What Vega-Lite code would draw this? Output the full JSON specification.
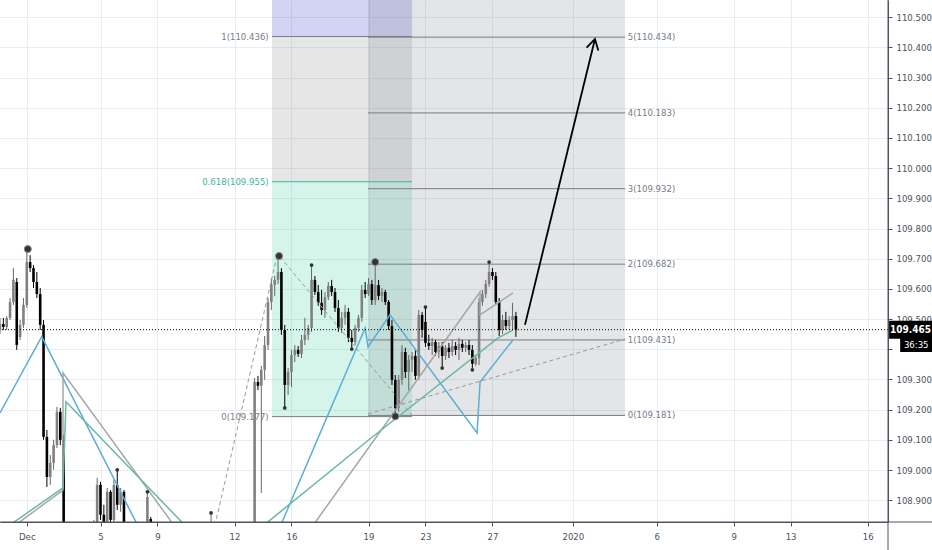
{
"$schema": "https://vega.github.io/schema/vega-lite/v6.json",
"autosize": {"type": "none"},
"width": 888,
"height": 522,
"padding": {"left": 0, "top": 0, "right": 44, "bottom": 28},
"background": "#ffffff",
"config": {
  "view": {"stroke": null},
  "axis": {"labelFont": "DejaVu Sans Condensed, Liberation Sans Narrow, Liberation Sans", "labelFontSize": 9.5, "labelColor": "#4c525e", "gridColor": "#e6edf4", "gridWidth": 1, "domainColor": "#50535e", "tickColor": "#50535e", "labelOverlap": false, "labelSeparation": 0},
  "axisY": {"labelOverlap": false, "tickCount": 17},
  "text": {"font": "DejaVu Sans Condensed, Liberation Sans Narrow, Liberation Sans", "fontSize": 9.5}
},
"resolve": {"scale": {"color": "independent"}},
"datasets": {
  "zones": [
    {"zone": "A-green", "x1": 81.2, "x2": 123.0, "lo": 109.177, "hi": 109.955},
    {"zone": "A-gray", "x1": 81.2, "x2": 123.0, "lo": 109.955, "hi": 110.436},
    {"zone": "A-purple", "x1": 81.2, "x2": 123.0, "lo": 110.436, "hi": 110.6},
    {"zone": "B-gray", "x1": 109.85, "x2": 186.6, "lo": 109.181, "hi": 110.6}
  ],
  "levels": [
    {"x1": 81.2, "x2": 123.0, "y": 110.436, "kind": "gray"},
    {"x1": 81.2, "x2": 123.0, "y": 109.955, "kind": "teal"},
    {"x1": 81.2, "x2": 123.0, "y": 109.177, "kind": "gray"},
    {"x1": 109.85, "x2": 186.6, "y": 109.181, "kind": "gray"},
    {"x1": 109.85, "x2": 186.6, "y": 109.431, "kind": "gray"},
    {"x1": 109.85, "x2": 186.6, "y": 109.682, "kind": "gray"},
    {"x1": 109.85, "x2": 186.6, "y": 109.932, "kind": "gray"},
    {"x1": 109.85, "x2": 186.6, "y": 110.183, "kind": "gray"},
    {"x1": 109.85, "x2": 186.6, "y": 110.434, "kind": "gray"}
  ],
  "labelsA": [
    {"x": 80.2, "y": 110.436, "t": "1(110.436)", "kind": "gray"},
    {"x": 80.2, "y": 109.955, "t": "0.618(109.955)", "kind": "teal"},
    {"x": 80.2, "y": 109.177, "t": "0(109.177)", "kind": "gray"}
  ],
  "labelsB": [
    {"x": 187.4, "y": 110.434, "t": "5(110.434)"},
    {"x": 187.4, "y": 110.183, "t": "4(110.183)"},
    {"x": 187.4, "y": 109.932, "t": "3(109.932)"},
    {"x": 187.4, "y": 109.682, "t": "2(109.682)"},
    {"x": 187.4, "y": 109.431, "t": "1(109.431)"},
    {"x": 187.4, "y": 109.181, "t": "0(109.181)"}
  ],
  "candles": [
    {"k":0,"o":109.464,"h":109.504,"l":109.451,"c":109.484},
    {"k":1,"o":109.484,"h":109.504,"l":109.464,"c":109.474},
    {"k":2,"o":109.474,"h":109.510,"l":109.464,"c":109.504},
    {"k":3,"o":109.504,"h":109.570,"l":109.497,"c":109.557},
    {"k":4,"o":109.557,"h":109.669,"l":109.547,"c":109.630},
    {"k":5,"o":109.623,"h":109.636,"l":109.398,"c":109.414},
    {"k":6,"o":109.441,"h":109.497,"l":109.431,"c":109.481},
    {"k":7,"o":109.481,"h":109.570,"l":109.471,"c":109.547},
    {"k":8,"o":109.547,"h":109.726,"l":109.537,"c":109.689},
    {"k":9,"o":109.689,"h":109.712,"l":109.656,"c":109.669},
    {"k":10,"o":109.669,"h":109.679,"l":109.603,"c":109.623},
    {"k":11,"o":109.623,"h":109.656,"l":109.570,"c":109.583},
    {"k":12,"o":109.583,"h":109.603,"l":109.464,"c":109.481},
    {"k":13,"o":109.481,"h":109.497,"l":109.100,"c":109.110},
    {"k":14,"o":109.110,"h":109.133,"l":108.944,"c":108.977},
    {"k":15,"o":108.977,"h":109.050,"l":108.951,"c":109.024},
    {"k":16,"o":109.024,"h":109.100,"l":109.001,"c":109.083},
    {"k":17,"o":109.083,"h":109.209,"l":109.073,"c":109.193},
    {"k":18,"o":109.193,"h":109.206,"l":109.083,"c":109.100},
    {"k":19,"o":109.100,"h":109.117,"l":108.570,"c":108.603},
    {"k":28,"o":108.752,"h":108.835,"l":108.736,"c":108.818},
    {"k":29,"o":108.818,"h":108.974,"l":108.809,"c":108.951},
    {"k":30,"o":108.951,"h":108.961,"l":108.835,"c":108.852},
    {"k":31,"o":108.852,"h":108.885,"l":108.802,"c":108.828},
    {"k":32,"o":108.828,"h":108.941,"l":108.818,"c":108.928},
    {"k":33,"o":108.928,"h":108.934,"l":108.809,"c":108.835},
    {"k":34,"o":108.835,"h":108.967,"l":108.818,"c":108.951},
    {"k":35,"o":108.951,"h":109.001,"l":108.868,"c":108.885},
    {"k":36,"o":108.885,"h":108.941,"l":108.862,"c":108.928},
    {"k":37,"o":108.928,"h":108.934,"l":108.703,"c":108.736},
    {"k":44,"o":108.752,"h":108.928,"l":108.742,"c":108.911},
    {"k":45,"o":108.838,"h":108.845,"l":108.703,"c":108.719},
    {"k":63,"o":108.703,"h":108.858,"l":108.670,"c":108.719},
    {"k":76,"o":108.570,"h":109.305,"l":108.537,"c":109.292},
    {"k":77,"o":109.292,"h":109.312,"l":109.265,"c":109.279},
    {"k":78,"o":109.279,"h":109.345,"l":108.924,"c":109.332},
    {"k":79,"o":109.332,"h":109.444,"l":109.299,"c":109.414},
    {"k":80,"o":109.414,"h":109.570,"l":109.398,"c":109.557},
    {"k":81,"o":109.557,"h":109.636,"l":109.530,"c":109.613},
    {"k":82,"o":109.613,"h":109.643,"l":109.577,"c":109.630},
    {"k":83,"o":109.630,"h":109.709,"l":109.616,"c":109.656},
    {"k":84,"o":109.656,"h":109.669,"l":109.448,"c":109.464},
    {"k":85,"o":109.464,"h":109.481,"l":109.206,"c":109.282},
    {"k":86,"o":109.282,"h":109.338,"l":109.249,"c":109.325},
    {"k":87,"o":109.325,"h":109.398,"l":109.275,"c":109.381},
    {"k":88,"o":109.381,"h":109.414,"l":109.358,"c":109.398},
    {"k":89,"o":109.398,"h":109.411,"l":109.375,"c":109.385},
    {"k":90,"o":109.385,"h":109.448,"l":109.371,"c":109.431},
    {"k":91,"o":109.431,"h":109.504,"l":109.414,"c":109.448},
    {"k":92,"o":109.448,"h":109.481,"l":109.431,"c":109.471},
    {"k":93,"o":109.471,"h":109.679,"l":109.458,"c":109.630},
    {"k":94,"o":109.630,"h":109.643,"l":109.580,"c":109.590},
    {"k":95,"o":109.590,"h":109.613,"l":109.544,"c":109.554},
    {"k":96,"o":109.554,"h":109.597,"l":109.514,"c":109.530},
    {"k":97,"o":109.530,"h":109.590,"l":109.504,"c":109.573},
    {"k":98,"o":109.573,"h":109.623,"l":109.563,"c":109.610},
    {"k":99,"o":109.610,"h":109.630,"l":109.577,"c":109.590},
    {"k":100,"o":109.590,"h":109.603,"l":109.524,"c":109.537},
    {"k":101,"o":109.537,"h":109.563,"l":109.458,"c":109.471},
    {"k":102,"o":109.471,"h":109.524,"l":109.454,"c":109.504},
    {"k":103,"o":109.504,"h":109.547,"l":109.481,"c":109.524},
    {"k":104,"o":109.524,"h":109.537,"l":109.424,"c":109.438},
    {"k":105,"o":109.438,"h":109.464,"l":109.401,"c":109.424},
    {"k":106,"o":109.424,"h":109.481,"l":109.414,"c":109.471},
    {"k":107,"o":109.471,"h":109.514,"l":109.458,"c":109.504},
    {"k":108,"o":109.504,"h":109.613,"l":109.491,"c":109.597},
    {"k":109,"o":109.597,"h":109.623,"l":109.570,"c":109.583},
    {"k":110,"o":109.583,"h":109.636,"l":109.577,"c":109.616},
    {"k":111,"o":109.616,"h":109.630,"l":109.547,"c":109.563},
    {"k":112,"o":109.563,"h":109.686,"l":109.547,"c":109.613},
    {"k":113,"o":109.613,"h":109.630,"l":109.563,"c":109.577},
    {"k":114,"o":109.577,"h":109.603,"l":109.557,"c":109.590},
    {"k":115,"o":109.590,"h":109.597,"l":109.547,"c":109.557},
    {"k":116,"o":109.557,"h":109.563,"l":109.464,"c":109.477},
    {"k":117,"o":109.477,"h":109.497,"l":109.282,"c":109.299},
    {"k":118,"o":109.299,"h":109.315,"l":109.176,"c":109.206},
    {"k":119,"o":109.206,"h":109.315,"l":109.193,"c":109.299},
    {"k":120,"o":109.299,"h":109.414,"l":109.282,"c":109.391},
    {"k":121,"o":109.391,"h":109.405,"l":109.305,"c":109.325},
    {"k":122,"o":109.325,"h":109.381,"l":109.265,"c":109.365},
    {"k":123,"o":109.365,"h":109.391,"l":109.325,"c":109.378},
    {"k":124,"o":109.378,"h":109.398,"l":109.299,"c":109.312},
    {"k":125,"o":109.312,"h":109.530,"l":109.299,"c":109.514},
    {"k":126,"o":109.514,"h":109.524,"l":109.438,"c":109.464},
    {"k":127,"o":109.491,"h":109.540,"l":109.408,"c":109.421},
    {"k":128,"o":109.421,"h":109.448,"l":109.398,"c":109.411},
    {"k":129,"o":109.411,"h":109.438,"l":109.381,"c":109.424},
    {"k":130,"o":109.424,"h":109.431,"l":109.378,"c":109.391},
    {"k":131,"o":109.391,"h":109.424,"l":109.371,"c":109.411},
    {"k":132,"o":109.411,"h":109.424,"l":109.338,"c":109.378},
    {"k":133,"o":109.378,"h":109.414,"l":109.365,"c":109.405},
    {"k":134,"o":109.405,"h":109.421,"l":109.371,"c":109.391},
    {"k":135,"o":109.391,"h":109.431,"l":109.378,"c":109.411},
    {"k":136,"o":109.411,"h":109.424,"l":109.381,"c":109.398},
    {"k":137,"o":109.398,"h":109.438,"l":109.365,"c":109.418},
    {"k":138,"o":109.418,"h":109.431,"l":109.391,"c":109.405},
    {"k":139,"o":109.405,"h":109.424,"l":109.391,"c":109.414},
    {"k":140,"o":109.414,"h":109.431,"l":109.381,"c":109.398},
    {"k":141,"o":109.398,"h":109.414,"l":109.332,"c":109.352},
    {"k":142,"o":109.352,"h":109.381,"l":109.345,"c":109.371},
    {"k":143,"o":109.371,"h":109.570,"l":109.348,"c":109.557},
    {"k":144,"o":109.557,"h":109.597,"l":109.544,"c":109.583},
    {"k":145,"o":109.583,"h":109.630,"l":109.570,"c":109.616},
    {"k":146,"o":109.616,"h":109.689,"l":109.607,"c":109.656},
    {"k":147,"o":109.656,"h":109.669,"l":109.630,"c":109.643},
    {"k":148,"o":109.643,"h":109.656,"l":109.547,"c":109.557},
    {"k":149,"o":109.557,"h":109.570,"l":109.444,"c":109.464},
    {"k":150,"o":109.464,"h":109.514,"l":109.451,"c":109.497},
    {"k":151,"o":109.497,"h":109.524,"l":109.464,"c":109.477},
    {"k":152,"o":109.477,"h":109.510,"l":109.464,"c":109.497},
    {"k":153,"o":109.497,"h":109.554,"l":109.464,"c":109.510},
    {"k":154,"o":109.510,"h":109.524,"l":109.441,"c":109.465}
  ],
  "lines": [
    {"id": "b1", "g": "blue", "i": 0, "x": 0, "y": 109.189},
    {"id": "b1", "g": "blue", "i": 1, "x": 12.45, "y": 109.442},
    {"id": "b1", "g": "blue", "i": 2, "x": 46.3, "y": 108.703},
    {"id": "b2", "g": "blue", "i": 0, "x": 79.4, "y": 108.703},
    {"id": "b2", "g": "blue", "i": 1, "x": 109.0, "y": 109.471},
    {"id": "b2", "g": "blue", "i": 2, "x": 109.85, "y": 109.408},
    {"id": "b2", "g": "blue", "i": 3, "x": 116.4, "y": 109.514},
    {"id": "b2", "g": "blue", "i": 4, "x": 142.4, "y": 109.123},
    {"id": "b2", "g": "blue", "i": 5, "x": 143.3, "y": 109.292},
    {"id": "b2", "g": "blue", "i": 6, "x": 153.1, "y": 109.431},
    {"id": "g1", "g": "gray", "i": 0, "x": -9.4, "y": 108.703},
    {"id": "g1", "g": "gray", "i": 1, "x": 18.8, "y": 108.934},
    {"id": "g1", "g": "gray", "i": 2, "x": 18.8, "y": 109.322},
    {"id": "g1", "g": "gray", "i": 3, "x": 59.4, "y": 108.703},
    {"id": "g2", "g": "gray", "i": 0, "x": 86.1, "y": 108.703},
    {"id": "g2", "g": "gray", "i": 1, "x": 143.3, "y": 109.590},
    {"id": "g2", "g": "gray", "i": 2, "x": 143.3, "y": 109.514},
    {"id": "g2", "g": "gray", "i": 3, "x": 153.1, "y": 109.587},
    {"id": "n1", "g": "green", "i": 0, "x": -11.9, "y": 108.703},
    {"id": "n1", "g": "green", "i": 1, "x": 18.8, "y": 108.941},
    {"id": "n1", "g": "green", "i": 2, "x": 19.7, "y": 109.226},
    {"id": "n1", "g": "green", "i": 3, "x": 65.1, "y": 108.703},
    {"id": "n2", "g": "green", "i": 0, "x": 66.1, "y": 108.703},
    {"id": "n2", "g": "green", "i": 1, "x": 110.4, "y": 109.103},
    {"id": "n2", "g": "green", "i": 2, "x": 148.7, "y": 109.438},
    {"id": "n2", "g": "green", "i": 3, "x": 153.1, "y": 109.464}
  ],
  "dashed": [
    {"id": "d1", "i": 0, "x": 61.8, "y": 108.703},
    {"id": "d1", "i": 1, "x": 82.7, "y": 109.709},
    {"id": "d2", "i": 0, "x": 83.6, "y": 109.706},
    {"id": "d2", "i": 1, "x": 122.9, "y": 109.183},
    {"id": "d3", "i": 0, "x": 109.85, "y": 109.186},
    {"id": "d3", "i": 1, "x": 186.6, "y": 109.434}
  ],
  "arrow": [
    {"id": "shaft", "i": 0, "x": 156.7, "y": 109.481},
    {"id": "shaft", "i": 1, "x": 177.6, "y": 110.428},
    {"id": "head", "i": 0, "x": 175.1, "y": 110.399},
    {"id": "head", "i": 1, "x": 177.6, "y": 110.428},
    {"id": "head", "i": 2, "x": 178.6, "y": 110.390}
  ],
  "pivots": [
    {"x": 8.3, "y": 109.732},
    {"x": 83.3, "y": 109.709},
    {"x": 112, "y": 109.689},
    {"x": 118, "y": 109.178}
  ],
  "swings": [
    {"x": 35, "y": 109.001},
    {"x": 44, "y": 108.928},
    {"x": 63, "y": 108.858},
    {"x": 85, "y": 109.206},
    {"x": 93, "y": 109.679},
    {"x": 105, "y": 109.401},
    {"x": 127, "y": 109.540},
    {"x": 132, "y": 109.338},
    {"x": 141, "y": 109.332},
    {"x": 146, "y": 109.689}
  ],
  "last": [{"p": 109.465, "tag": "109.465"}],
  "timer": [{"p": 109.414, "tag": "36:35"}],
  "frame": [{"left": 0, "right": 265.07, "bottom": 108.828, "top": 110.557, "floor": 108.735, "edge": 278.3}]
},
"layer": [
  {
    "data": {"name": "zones"},
    "mark": {"type": "rect", "opacity": 0.2, "clip": true},
    "encoding": {
      "x": {"field": "x1", "type": "quantitative",
        "scale": {"domain": [0, 265.07], "nice": false, "zero": false, "padding": 0},
        "axis": {"orient": "bottom", "title": null, "grid": true, "tickSize": 4, "labelPadding": 5, "labelFlush": false, "labelOverlap": false,
          "values": [8, 30, 47, 70, 87, 110, 127, 147, 171, 196, 219, 236, 259],
          "labelExpr": "['Dec','5','9','12','16','19','23','27','2020','6','9','13','16'][indexof([8,30,47,70,87,110,127,147,171,196,219,236,259], datum.value)]"}},
      "x2": {"field": "x2"},
      "y": {"field": "lo", "type": "quantitative",
        "scale": {"domain": [108.828, 110.557], "nice": false, "zero": false, "padding": 0},
        "axis": {"orient": "right", "title": null, "grid": true, "tickSize": 4, "labelPadding": 4, "format": ".3f", "labelFlush": false, "labelOverlap": false, "labelSeparation": 0, "tickCount": 17, "labelExpr": "abs(datum.value - 109.4) < 0.01 ? '' : datum.label",
          "values": [108.9, 109.0, 109.1, 109.2, 109.3, 109.4, 109.5, 109.6, 109.7, 109.8, 109.9, 110.0, 110.1, 110.2, 110.3, 110.4, 110.5]}},
      "y2": {"field": "hi"},
      "color": {"field": "zone", "type": "nominal", "legend": null,
        "scale": {"domain": ["A-green", "A-gray", "A-purple", "B-gray"], "range": ["#2dcd96", "#808080", "#2323c3", "#787b86"]}}
    }
  },
  {
    "data": {"name": "levels"},
    "mark": {"type": "rule", "strokeWidth": 1, "clip": true},
    "encoding": {
      "x": {"field": "x1", "type": "quantitative", "title": null},
      "x2": {"field": "x2"},
      "y": {"field": "y", "type": "quantitative", "title": null, "axis": {"orient": "right", "title": null, "grid": true, "tickSize": 4, "labelPadding": 4, "format": ".3f", "labelFlush": false, "labelOverlap": false, "labelSeparation": 0, "tickCount": 17, "labelExpr": "abs(datum.value - 109.4) < 0.01 ? '' : datum.label", "values": [108.9, 109.0, 109.1, 109.2, 109.3, 109.4, 109.5, 109.6, 109.7, 109.8, 109.9, 110.0, 110.1, 110.2, 110.3, 110.4, 110.5]}},
      "color": {"field": "kind", "type": "nominal", "legend": null, "scale": {"domain": ["gray", "teal"], "range": ["#787b86", "#3cb4a0"]}}
    }
  },
  {
    "data": {"name": "labelsA"},
    "mark": {"type": "text", "align": "right", "baseline": "middle"},
    "encoding": {
      "x": {"field": "x", "type": "quantitative", "title": null},
      "y": {"field": "y", "type": "quantitative", "title": null, "axis": {"orient": "right", "title": null, "grid": true, "tickSize": 4, "labelPadding": 4, "format": ".3f", "labelFlush": false, "labelOverlap": false, "labelSeparation": 0, "tickCount": 17, "labelExpr": "abs(datum.value - 109.4) < 0.01 ? '' : datum.label", "values": [108.9, 109.0, 109.1, 109.2, 109.3, 109.4, 109.5, 109.6, 109.7, 109.8, 109.9, 110.0, 110.1, 110.2, 110.3, 110.4, 110.5]}},
      "text": {"field": "t"},
      "color": {"field": "kind", "type": "nominal", "legend": null, "scale": {"domain": ["gray", "teal"], "range": ["#787b86", "#3cb4a0"]}}
    }
  },
  {
    "data": {"name": "labelsB"},
    "mark": {"type": "text", "align": "left", "baseline": "middle", "color": "#787b86"},
    "encoding": {
      "x": {"field": "x", "type": "quantitative", "title": null},
      "y": {"field": "y", "type": "quantitative", "title": null, "axis": {"orient": "right", "title": null, "grid": true, "tickSize": 4, "labelPadding": 4, "format": ".3f", "labelFlush": false, "labelOverlap": false, "labelSeparation": 0, "tickCount": 17, "labelExpr": "abs(datum.value - 109.4) < 0.01 ? '' : datum.label", "values": [108.9, 109.0, 109.1, 109.2, 109.3, 109.4, 109.5, 109.6, 109.7, 109.8, 109.9, 110.0, 110.1, 110.2, 110.3, 110.4, 110.5]}},
      "text": {"field": "t"}
    }
  },
  {
    "data": {"name": "candles"},
    "mark": {"type": "rule", "strokeWidth": 1, "clip": true},
    "encoding": {
      "x": {"field": "k", "type": "quantitative", "title": null},
      "y": {"field": "l", "type": "quantitative", "title": null, "axis": {"orient": "right", "title": null, "grid": true, "tickSize": 4, "labelPadding": 4, "format": ".3f", "labelFlush": false, "labelOverlap": false, "labelSeparation": 0, "tickCount": 17, "labelExpr": "abs(datum.value - 109.4) < 0.01 ? '' : datum.label", "values": [108.9, 109.0, 109.1, 109.2, 109.3, 109.4, 109.5, 109.6, 109.7, 109.8, 109.9, 110.0, 110.1, 110.2, 110.3, 110.4, 110.5]}},
      "y2": {"field": "h"},
      "color": {"condition": {"test": "datum.c >= datum.o", "value": "#666666"}, "value": "#000000"}
    }
  },
  {
    "data": {"name": "candles"},
    "mark": {"type": "bar", "size": 2.6, "clip": true},
    "encoding": {
      "x": {"field": "k", "type": "quantitative", "title": null},
      "y": {"field": "o", "type": "quantitative", "title": null, "axis": {"orient": "right", "title": null, "grid": true, "tickSize": 4, "labelPadding": 4, "format": ".3f", "labelFlush": false, "labelOverlap": false, "labelSeparation": 0, "tickCount": 17, "labelExpr": "abs(datum.value - 109.4) < 0.01 ? '' : datum.label", "values": [108.9, 109.0, 109.1, 109.2, 109.3, 109.4, 109.5, 109.6, 109.7, 109.8, 109.9, 110.0, 110.1, 110.2, 110.3, 110.4, 110.5]}},
      "y2": {"field": "c"},
      "color": {"condition": {"test": "datum.c >= datum.o", "value": "#808080"}, "value": "#000000"}
    }
  },
  {
    "data": {"name": "dashed"},
    "mark": {"type": "line", "strokeWidth": 1, "strokeDash": [4, 3], "color": "#9598a1", "clip": true},
    "encoding": {
      "x": {"field": "x", "type": "quantitative", "title": null},
      "y": {"field": "y", "type": "quantitative", "title": null, "axis": {"orient": "right", "title": null, "grid": true, "tickSize": 4, "labelPadding": 4, "format": ".3f", "labelFlush": false, "labelOverlap": false, "labelSeparation": 0, "tickCount": 17, "labelExpr": "abs(datum.value - 109.4) < 0.01 ? '' : datum.label", "values": [108.9, 109.0, 109.1, 109.2, 109.3, 109.4, 109.5, 109.6, 109.7, 109.8, 109.9, 110.0, 110.1, 110.2, 110.3, 110.4, 110.5]}},
      "detail": {"field": "id"},
      "order": {"field": "i"}
    }
  },
  {
    "data": {"name": "lines"},
    "mark": {"type": "line", "strokeWidth": 1.5, "clip": true},
    "encoding": {
      "x": {"field": "x", "type": "quantitative", "title": null},
      "y": {"field": "y", "type": "quantitative", "title": null, "axis": {"orient": "right", "title": null, "grid": true, "tickSize": 4, "labelPadding": 4, "format": ".3f", "labelFlush": false, "labelOverlap": false, "labelSeparation": 0, "tickCount": 17, "labelExpr": "abs(datum.value - 109.4) < 0.01 ? '' : datum.label", "values": [108.9, 109.0, 109.1, 109.2, 109.3, 109.4, 109.5, 109.6, 109.7, 109.8, 109.9, 110.0, 110.1, 110.2, 110.3, 110.4, 110.5]}},
      "detail": {"field": "id"},
      "order": {"field": "i"},
      "color": {"field": "g", "type": "nominal", "legend": null, "scale": {"domain": ["blue", "gray", "green"], "range": ["#5aaed8", "#a6a6a6", "#6cb89c"]}}
    }
  },
  {
    "data": {"name": "last"},
    "mark": {"type": "rule", "color": "#000000", "strokeWidth": 1, "strokeDash": [1, 2]},
    "encoding": {
      "y": {"field": "p", "type": "quantitative", "title": null, "axis": {"orient": "right", "title": null, "grid": true, "tickSize": 4, "labelPadding": 4, "format": ".3f", "labelFlush": false, "labelOverlap": false, "labelSeparation": 0, "tickCount": 17, "labelExpr": "abs(datum.value - 109.4) < 0.01 ? '' : datum.label", "values": [108.9, 109.0, 109.1, 109.2, 109.3, 109.4, 109.5, 109.6, 109.7, 109.8, 109.9, 110.0, 110.1, 110.2, 110.3, 110.4, 110.5]}}
    }
  },
  {
    "data": {"name": "arrow"},
    "mark": {"type": "line", "strokeWidth": 1.8, "color": "#000000", "clip": true},
    "encoding": {
      "x": {"field": "x", "type": "quantitative", "title": null},
      "y": {"field": "y", "type": "quantitative", "title": null, "axis": {"orient": "right", "title": null, "grid": true, "tickSize": 4, "labelPadding": 4, "format": ".3f", "labelFlush": false, "labelOverlap": false, "labelSeparation": 0, "tickCount": 17, "labelExpr": "abs(datum.value - 109.4) < 0.01 ? '' : datum.label", "values": [108.9, 109.0, 109.1, 109.2, 109.3, 109.4, 109.5, 109.6, 109.7, 109.8, 109.9, 110.0, 110.1, 110.2, 110.3, 110.4, 110.5]}},
      "detail": {"field": "id"},
      "order": {"field": "i"}
    }
  },
  {
    "data": {"name": "swings"},
    "mark": {"type": "point", "filled": true, "size": 14, "color": "#333333", "opacity": 1},
    "encoding": {
      "x": {"field": "x", "type": "quantitative", "title": null},
      "y": {"field": "y", "type": "quantitative", "title": null, "axis": {"orient": "right", "title": null, "grid": true, "tickSize": 4, "labelPadding": 4, "format": ".3f", "labelFlush": false, "labelOverlap": false, "labelSeparation": 0, "tickCount": 17, "labelExpr": "abs(datum.value - 109.4) < 0.01 ? '' : datum.label", "values": [108.9, 109.0, 109.1, 109.2, 109.3, 109.4, 109.5, 109.6, 109.7, 109.8, 109.9, 110.0, 110.1, 110.2, 110.3, 110.4, 110.5]}}
    }
  },
  {
    "data": {"name": "pivots"},
    "mark": {"type": "point", "filled": true, "size": 50, "color": "#333333", "opacity": 1, "stroke": "#888888", "strokeWidth": 1},
    "encoding": {
      "x": {"field": "x", "type": "quantitative", "title": null},
      "y": {"field": "y", "type": "quantitative", "title": null, "axis": {"orient": "right", "title": null, "grid": true, "tickSize": 4, "labelPadding": 4, "format": ".3f", "labelFlush": false, "labelOverlap": false, "labelSeparation": 0, "tickCount": 17, "labelExpr": "abs(datum.value - 109.4) < 0.01 ? '' : datum.label", "values": [108.9, 109.0, 109.1, 109.2, 109.3, 109.4, 109.5, 109.6, 109.7, 109.8, 109.9, 110.0, 110.1, 110.2, 110.3, 110.4, 110.5]}}
    }
  },
  {
    "data": {"name": "frame"},
    "mark": {"type": "rule", "color": "#50535e", "strokeWidth": 1, "clip": false},
    "encoding": {
      "x": {"field": "right", "type": "quantitative", "title": null},
      "y": {"field": "top", "type": "quantitative", "title": null, "axis": {"orient": "right", "title": null, "grid": true, "tickSize": 4, "labelPadding": 4, "format": ".3f", "labelFlush": false, "labelOverlap": false, "labelSeparation": 0, "tickCount": 17, "labelExpr": "abs(datum.value - 109.4) < 0.01 ? '' : datum.label", "values": [108.9, 109.0, 109.1, 109.2, 109.3, 109.4, 109.5, 109.6, 109.7, 109.8, 109.9, 110.0, 110.1, 110.2, 110.3, 110.4, 110.5]}},
      "y2": {"field": "floor"}
    }
  },
  {
    "data": {"name": "frame"},
    "mark": {"type": "rule", "color": "#50535e", "strokeWidth": 1, "clip": false},
    "encoding": {
      "x": {"field": "left", "type": "quantitative", "title": null},
      "x2": {"field": "edge"},
      "y": {"field": "bottom", "type": "quantitative", "title": null, "axis": {"orient": "right", "title": null, "grid": true, "tickSize": 4, "labelPadding": 4, "format": ".3f", "labelFlush": false, "labelOverlap": false, "labelSeparation": 0, "tickCount": 17, "labelExpr": "abs(datum.value - 109.4) < 0.01 ? '' : datum.label", "values": [108.9, 109.0, 109.1, 109.2, 109.3, 109.4, 109.5, 109.6, 109.7, 109.8, 109.9, 110.0, 110.1, 110.2, 110.3, 110.4, 110.5]}}
    }
  },
  {
    "data": {"name": "last"},
    "mark": {"type": "bar", "orient": "horizontal", "size": 18, "color": "#000000", "clip": false},
    "encoding": {
      "x": {"datum": 265.4, "type": "quantitative", "title": null},
      "x2": {"datum": 278.3},
      "y": {"field": "p", "type": "quantitative", "title": null, "axis": {"orient": "right", "title": null, "grid": true, "tickSize": 4, "labelPadding": 4, "format": ".3f", "labelFlush": false, "labelOverlap": false, "labelSeparation": 0, "tickCount": 17, "labelExpr": "abs(datum.value - 109.4) < 0.01 ? '' : datum.label", "values": [108.9, 109.0, 109.1, 109.2, 109.3, 109.4, 109.5, 109.6, 109.7, 109.8, 109.9, 110.0, 110.1, 110.2, 110.3, 110.4, 110.5]}}
    }
  },
  {
    "data": {"name": "last"},
    "mark": {"type": "text", "color": "#ffffff", "fontWeight": "bold", "fontSize": 10, "align": "center", "baseline": "middle", "clip": false},
    "encoding": {
      "x": {"datum": 271.8, "type": "quantitative", "title": null},
      "y": {"field": "p", "type": "quantitative", "title": null, "axis": {"orient": "right", "title": null, "grid": true, "tickSize": 4, "labelPadding": 4, "format": ".3f", "labelFlush": false, "labelOverlap": false, "labelSeparation": 0, "tickCount": 17, "labelExpr": "abs(datum.value - 109.4) < 0.01 ? '' : datum.label", "values": [108.9, 109.0, 109.1, 109.2, 109.3, 109.4, 109.5, 109.6, 109.7, 109.8, 109.9, 110.0, 110.1, 110.2, 110.3, 110.4, 110.5]}},
      "text": {"field": "tag"}
    }
  },
  {
    "data": {"name": "timer"},
    "mark": {"type": "bar", "orient": "horizontal", "size": 14, "color": "#000000", "clip": false},
    "encoding": {
      "x": {"datum": 268.7, "type": "quantitative", "title": null},
      "x2": {"datum": 278.3},
      "y": {"field": "p", "type": "quantitative", "title": null, "axis": {"orient": "right", "title": null, "grid": true, "tickSize": 4, "labelPadding": 4, "format": ".3f", "labelFlush": false, "labelOverlap": false, "labelSeparation": 0, "tickCount": 17, "labelExpr": "abs(datum.value - 109.4) < 0.01 ? '' : datum.label", "values": [108.9, 109.0, 109.1, 109.2, 109.3, 109.4, 109.5, 109.6, 109.7, 109.8, 109.9, 110.0, 110.1, 110.2, 110.3, 110.4, 110.5]}}
    }
  },
  {
    "data": {"name": "timer"},
    "mark": {"type": "text", "color": "#ffffff", "fontSize": 9.5, "align": "center", "baseline": "middle", "clip": false},
    "encoding": {
      "x": {"datum": 273.5, "type": "quantitative", "title": null},
      "y": {"field": "p", "type": "quantitative", "title": null, "axis": {"orient": "right", "title": null, "grid": true, "tickSize": 4, "labelPadding": 4, "format": ".3f", "labelFlush": false, "labelOverlap": false, "labelSeparation": 0, "tickCount": 17, "labelExpr": "abs(datum.value - 109.4) < 0.01 ? '' : datum.label", "values": [108.9, 109.0, 109.1, 109.2, 109.3, 109.4, 109.5, 109.6, 109.7, 109.8, 109.9, 110.0, 110.1, 110.2, 110.3, 110.4, 110.5]}},
      "text": {"field": "tag"}
    }
  }
]
}
